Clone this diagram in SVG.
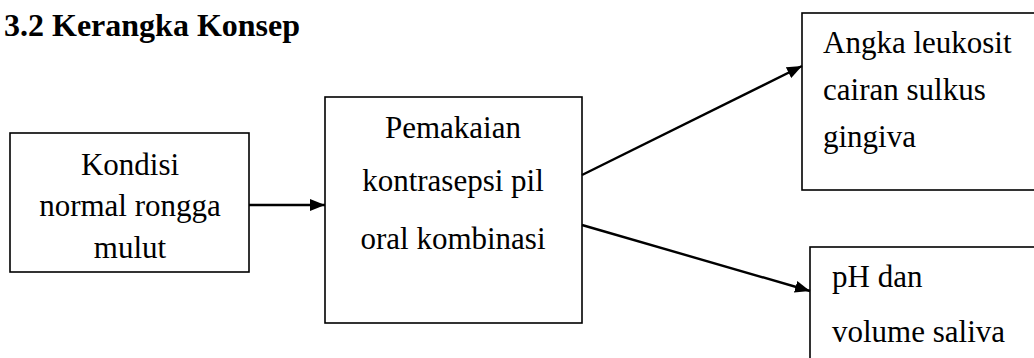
<svg xmlns="http://www.w3.org/2000/svg" width="1034" height="358" viewBox="0 0 1034 358">
<style>
.box{fill:#fff;stroke:#000;stroke-width:1.6}
.t{font-family:"Liberation Serif","Times New Roman",serif;font-size:31px;fill:#000}
.c{text-anchor:middle}
.title{font-family:"Liberation Serif","Times New Roman",serif;font-size:32px;font-weight:bold;fill:#000}
.conn{stroke:#000;stroke-width:2.4;fill:none;marker-end:url(#ah)}
</style>
<defs>
<marker id="ah" markerWidth="15" markerHeight="12" refX="15" refY="6" orient="auto" markerUnits="userSpaceOnUse" viewBox="0 0 15 12">
<path d="M0,0 L15,6 L0,12 Z" fill="#000"/>
</marker>
</defs>
<rect width="1034" height="358" fill="#fff"/>
<text class="title" x="4" y="36">3.2 Kerangka Konsep</text>
<g id="n1">
<rect class="box" x="10" y="133" width="239" height="139"/>
<text class="t c" x="130" y="175">Kondisi</text>
<text class="t c" x="130" y="216">normal rongga</text>
<text class="t c" x="130" y="258">mulut</text>
</g>
<g id="n2">
<rect class="box" x="325" y="97" width="257" height="226"/>
<text class="t c" x="453" y="138">Pemakaian</text>
<text class="t c" x="453" y="191">kontrasepsi pil</text>
<text class="t c" x="453" y="249">oral kombinasi</text>
</g>
<g id="n3">
<rect class="box" x="802" y="13" width="240" height="177"/>
<text class="t" x="823" y="53">Angka leukosit</text>
<text class="t" x="823" y="100">cairan sulkus</text>
<text class="t" x="823" y="147">gingiva</text>
</g>
<g id="n4">
<rect class="box" x="810" y="247" width="232" height="130"/>
<text class="t" x="832" y="287">pH dan</text>
<text class="t" x="832" y="342">volume saliva</text>
</g>
<g id="connectors">
<line class="conn" x1="249" y1="205" x2="325" y2="205"/>
<line class="conn" x1="582" y1="175" x2="802" y2="66"/>
<line class="conn" x1="582" y1="225" x2="810" y2="291"/>
</g>
</svg>
